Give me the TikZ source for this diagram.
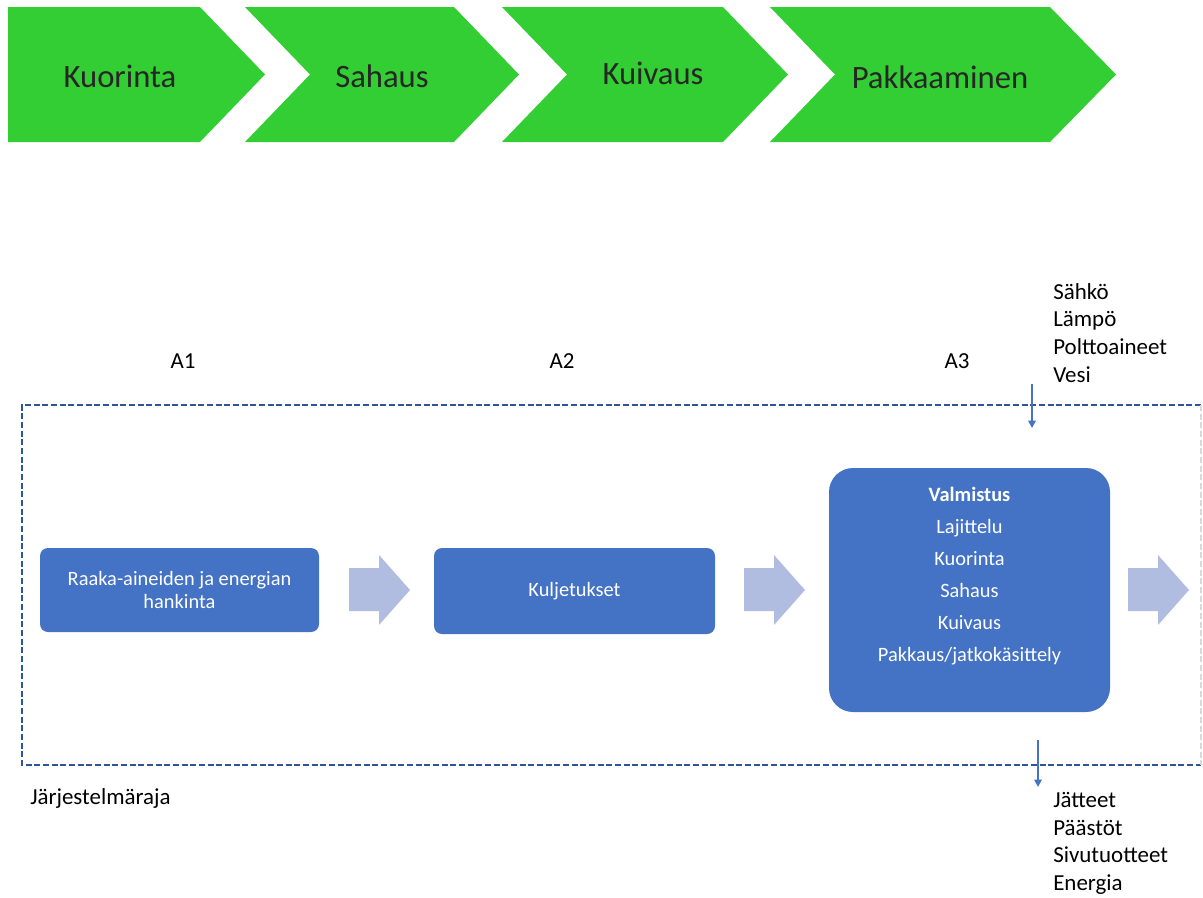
\documentclass[tikz,border=0pt]{standalone}
\usepackage{fontspec}
\setmainfont{Carlito}
\usepackage{tikz}
\usetikzlibrary{arrows.meta}
\usetikzlibrary{positioning}

\definecolor{chevgreen}{RGB}{51,205,52}
\definecolor{boxblue}{RGB}{68,114,196}
\definecolor{arrowblue}{RGB}{176,189,224}
\definecolor{frameblue}{RGB}{47,85,151}
\definecolor{darktext}{RGB}{38,38,38}

\begin{document}
\begin{tikzpicture}[x=0.75pt,y=-0.75pt,
    chevron/.style={fill=chevgreen},
    chevtext/.style={text=darktext,font=\fontsize{24.5}{29}\selectfont,inner sep=0pt},
    stage/.style={rectangle,rounded corners=6pt,fill=boxblue,text=white,
                  align=center,font=\fontsize{15.3}{17.3}\selectfont},
    blockarrow/.style={fill=arrowblue},
    sysline/.style={frameblue,line width=1pt,dash pattern=on 4.5pt off 2pt},
    flow/.style={boxblue,line width=1.4pt,-{Triangle[length=5.5pt,width=5.5pt]}},
    plain/.style={font=\fontsize{17.2}{20.8}\selectfont,inner sep=0pt,align=left}]

  \useasboundingbox (0,0) rectangle (1203,897);

  % process chevrons
  \fill[chevron] (8,7) -- (200,7) -- (265,74.5) -- (200,142) -- (8,142) -- cycle;
  \fill[chevron] (245,7) -- (454,7) -- (519,74.5) -- (454,142) -- (245,142) -- (310,74.5) -- cycle;
  \fill[chevron] (502,7) -- (723,7) -- (788,74.5) -- (723,142) -- (502,142) -- (567,74.5) -- cycle;
  \fill[chevron] (770,7) -- (1050,7) -- (1116,74.5) -- (1050,142) -- (770,142) -- (835,74.5) -- cycle;

  \node[chevtext] (kuorinta) at (120,76) {Kuorinta};
  \node[chevtext] (sahaus) at (382,76) {Sahaus};
  \node[chevtext] (kuivaus) at (653,73) {Kuivaus};
  \node[chevtext] (pakkaus) at (940,77) {Pakkaaminen};

  % life cycle modules
  \node[plain] (A1) at (183,361) {A1};
  \node[plain] (A2) at (562,361) {A2};
  \node[plain] (A3) at (957,361) {A3};

  % system boundary
  \draw[sysline] (1201,405) -- (22,405) -- (22,765) -- (1201,765);
  \draw[sysline,black!15] (1201,405) -- (1201,765);
  \node[plain,anchor=west] (raja) at (30,798) {Järjestelmäraja};

  \node[stage,minimum width=209.25pt,minimum height=63pt] (hankinta) at (179.5,590)
    {Raaka-aineiden ja energian\\hankinta};
  \node[stage,minimum width=210.75pt,minimum height=64.5pt] (kuljetus) at (574.5,591)
    {Kuljetukset};
  \node[stage,rounded corners=18pt,minimum width=210.75pt,minimum height=183pt] (valmistus) at (969.5,590) {};
  \node[text=white,align=center,font=\fontsize{15.3}{24}\selectfont] (vaiheet) at (969.5,576)
    {\textbf{Valmistus}\\Lajittelu\\Kuorinta\\Sahaus\\Kuivaus\\Pakkaus/jatkokäsittely};

  % block arrows
  \foreach \x in {349,744,1128}
    \fill[blockarrow] (\x,568) -- (\x+30,568) -- (\x+30,555) -- (\x+61,590)
      -- (\x+30,625) -- (\x+30,611) -- (\x,611) -- cycle;

  % inputs and outputs
  \node[plain,anchor=north west] (panokset) at (1053,283)
    {Sähkö\\Lämpö\\Polttoaineet\\Vesi};
  \coordinate (inA) at (1032,384);
  \coordinate (inB) at (1032,428);
  \draw[flow] (inA) -- (inB);

  \coordinate (outA) at (1038,740);
  \coordinate (outB) at (1038,787);
  \draw[flow] (outA) -- (outB);
  \node[plain,anchor=north west] (tuotokset) at (1053,792)
    {Jätteet\\Päästöt\\Sivutuotteet\\Energia};
\end{tikzpicture}
\end{document}
